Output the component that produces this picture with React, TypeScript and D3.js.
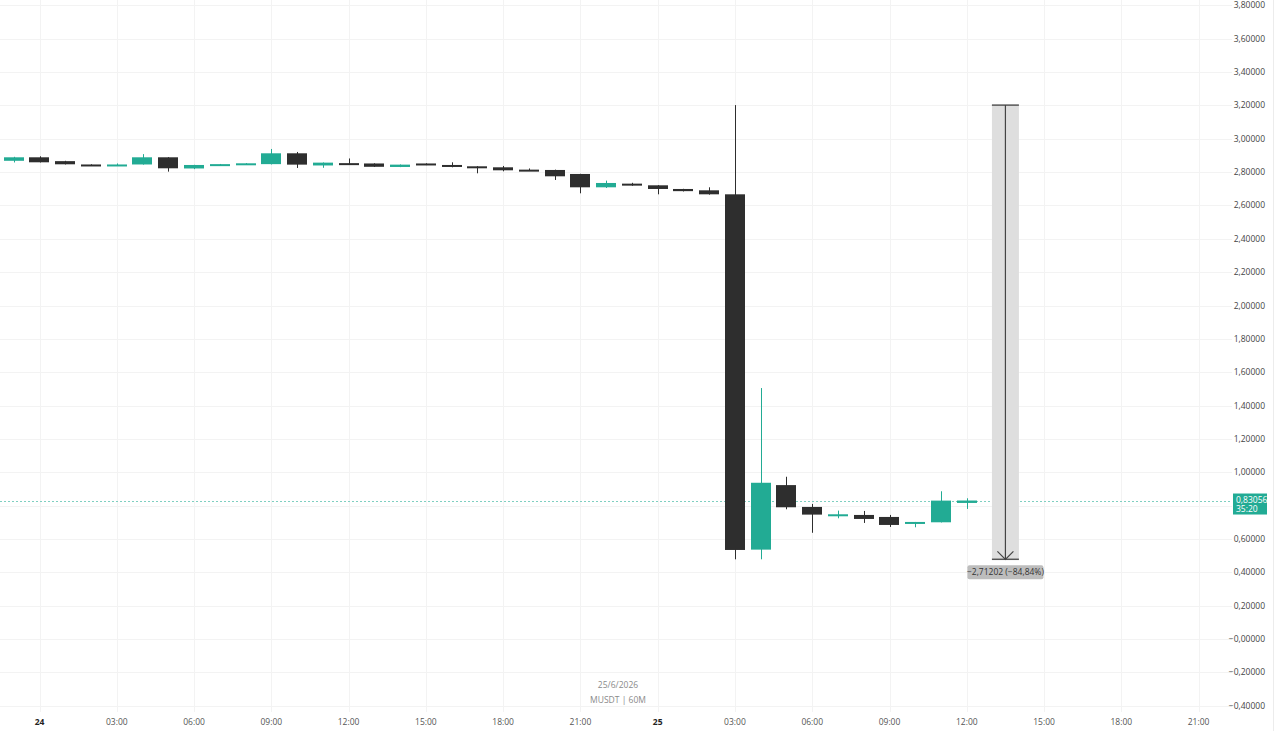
import * as d3 from "d3";
import React from "react";

// hourly candles, 23 Jun 23:00 -> 25 Jun 12:00 (UTC)
const startTime = Date.UTC(2026, 5, 23, 23);
const opens = [
  2.868, 2.889, 2.866, 2.846, 2.84, 2.846, 2.889, 2.822, 2.84, 2.844, 2.848, 2.913, 2.84,
  2.854, 2.852, 2.831, 2.852, 2.843, 2.835, 2.829, 2.815, 2.813, 2.789, 2.709, 2.731,
  2.721, 2.699, 2.691, 2.667, 0.536, 0.923, 0.792, 0.736, 0.744, 0.732, 0.69, 0.7, 0.816,
];
const highs = [
  2.892, 2.895, 2.868, 2.847, 2.852, 2.908, 2.89, 2.844, 2.849, 2.854, 2.939, 2.921, 2.858,
  2.882, 2.853, 2.846, 2.853, 2.859, 2.836, 2.837, 2.822, 2.815, 2.79, 2.749, 2.736,
  2.722, 2.7, 2.709, 3.202, 1.505, 0.973, 0.81, 0.77, 0.768, 0.744, 0.702, 0.886, 0.844,
];
const lows = [
  2.858, 2.858, 2.846, 2.84, 2.838, 2.845, 2.803, 2.818, 2.839, 2.843, 2.846, 2.825, 2.826,
  2.847, 2.831, 2.83, 2.842, 2.829, 2.793, 2.805, 2.808, 2.753, 2.673, 2.705, 2.718,
  2.667, 2.684, 2.665, 0.478, 0.478, 0.778, 0.637, 0.724, 0.696, 0.672, 0.67, 0.699, 0.78,
];
const closes = [
  2.889, 2.859, 2.847, 2.841, 2.846, 2.889, 2.823, 2.843, 2.848, 2.853, 2.913, 2.845, 2.857,
  2.848, 2.832, 2.845, 2.843, 2.835, 2.827, 2.811, 2.81, 2.775, 2.709, 2.735, 2.719,
  2.699, 2.686, 2.667, 0.534, 0.937, 0.79, 0.746, 0.748, 0.72, 0.684, 0.702, 0.83, 0.83056,
];
const priceTicks = [-0.4, -0.2, 0, 0.2, 0.4, 0.6, 0.8, 1.0, 1.2, 1.4, 1.6, 1.8, 2.0, 2.2, 2.4, 2.6, 2.8, 3.0, 3.2, 3.4, 3.6, 3.8];
const lastPrice = 0.83056;
const countdown = "35:20";
const measureFrom = 3.202;
const measureTo = 0.478;
const measureText = "\u22122,71202 (\u221284,84%)";
const dateLabel = "25/6/2026";
const symbolLabel = "MUSDT | 60M";

const UP = "#22ab94";
const DOWN = "#2e2e2e";
const GRID = "#f3f3f3";
const HOUR = 3600 * 1000;

function fmtPrice(v: number) {
  const s = Math.abs(v).toFixed(5).replace(".", ",");
  return v <= 0 ? "\u2212" + s : s;
}

export default function App() {
  const ref = React.useRef<SVGSVGElement>(null);

  React.useEffect(() => {
    if (!ref.current) return;
    const W = 1280;
    const H = 731;
    const svg = d3.select(ref.current);
    svg.selectAll("*").remove();

    const x = d3
      .scaleUtc()
      .domain([new Date(Date.UTC(2026, 5, 24, 0)), new Date(Date.UTC(2026, 5, 25, 21))])
      .range([39.5, 1198.6]);
    const y = d3.scaleLinear().domain([0, 3.8]).range([639, 5.4]);
    const hourPx = x(new Date(startTime + HOUR)) - x(new Date(startTime));
    const bodyW = hourPx * 0.78;

    svg.append("rect").attr("width", W).attr("height", H).attr("fill", "#ffffff");

    // grid
    const timeTicks = d3.utcHour.every(3)!.range(x.domain()[0], new Date(+x.domain()[1] + 1));
    svg
      .append("g")
      .selectAll("line")
      .data(timeTicks)
      .enter()
      .append("line")
      .attr("x1", (d) => Math.round(x(d)) + 0.5)
      .attr("x2", (d) => Math.round(x(d)) + 0.5)
      .attr("y1", 0)
      .attr("y2", 712)
      .attr("stroke", GRID);
    svg
      .append("g")
      .selectAll("line")
      .data(priceTicks)
      .enter()
      .append("line")
      .attr("x1", 0)
      .attr("x2", 1232)
      .attr("y1", (d) => Math.round(y(d)) + 0.5)
      .attr("y2", (d) => Math.round(y(d)) + 0.5)
      .attr("stroke", GRID);
    svg.append("line").attr("x1", 1273.5).attr("x2", 1273.5).attr("y1", 0).attr("y2", H).attr("stroke", "#ececec");

    // watermark-ish labels
    svg
      .append("text")
      .attr("x", 618)
      .attr("y", 688)
      .attr("text-anchor", "middle")
      .attr("font-size", 8.5)
      .attr("fill", "#8a8a8a")
      .text(dateLabel);
    svg
      .append("text")
      .attr("x", 618)
      .attr("y", 703)
      .attr("text-anchor", "middle")
      .attr("font-size", 8.5)
      .attr("fill", "#8a8a8a")
      .text(symbolLabel);

    // last price line
    svg
      .append("line")
      .attr("x1", 0)
      .attr("x2", 1232)
      .attr("y1", Math.round(y(lastPrice)) + 0.5)
      .attr("y2", Math.round(y(lastPrice)) + 0.5)
      .attr("stroke", "#7fcfc1")
      .attr("stroke-dasharray", "2,2")
      .attr("shape-rendering", "crispEdges");

    // candles
    const candles = opens.map((o, i) => ({
      t: new Date(startTime + i * HOUR),
      o,
      h: highs[i],
      l: lows[i],
      c: closes[i],
    }));
    const g = svg.append("g");
    const cg = g
      .selectAll("g")
      .data(candles)
      .enter()
      .append("g")
      .attr("fill", (d) => (d.c >= d.o ? UP : DOWN))
      .attr("stroke", (d) => (d.c >= d.o ? UP : DOWN));
    cg.append("line")
      .attr("x1", (d) => Math.round(x(d.t)) + 0.5)
      .attr("x2", (d) => Math.round(x(d.t)) + 0.5)
      .attr("y1", (d) => y(d.h))
      .attr("y2", (d) => y(d.l))
      .attr("stroke-width", 1);
    cg.append("rect")
      .attr("x", (d) => Math.round(x(d.t) - bodyW / 2))
      .attr("width", Math.round(bodyW))
      .attr("y", (d) => y(Math.max(d.o, d.c)))
      .attr("height", (d) => Math.max(2, Math.abs(y(d.o) - y(d.c))))
      .attr("stroke", "none");

    // measure tool
    const mx = x(new Date(Date.UTC(2026, 5, 25, 13, 30)));
    const mw = 27;
    const yTop = y(measureFrom);
    const yBot = y(measureTo);
    svg
      .append("rect")
      .attr("x", mx - mw / 2)
      .attr("y", yTop)
      .attr("width", mw)
      .attr("height", yBot - yTop)
      .attr("fill", "#dedede");
    [yTop, yBot].forEach((yy) =>
      svg
        .append("line")
        .attr("x1", mx - mw / 2)
        .attr("x2", mx + mw / 2)
        .attr("y1", yy)
        .attr("y2", yy)
        .attr("stroke", "#555")
        .attr("stroke-width", 1.5)
    );
    svg.append("line").attr("x1", mx).attr("x2", mx).attr("y1", yTop).attr("y2", yBot).attr("stroke", "#444").attr("stroke-width", 1.2);
    svg
      .append("path")
      .attr("d", `M${mx - 8},${yBot - 8}L${mx},${yBot}L${mx + 8},${yBot - 8}`)
      .attr("fill", "none")
      .attr("stroke", "#444")
      .attr("stroke-width", 1.2);
    svg
      .append("rect")
      .attr("x", mx - 38)
      .attr("y", yBot + 6)
      .attr("width", 76)
      .attr("height", 14)
      .attr("rx", 2)
      .attr("fill", "#bdbdbd");
    svg
      .append("text")
      .attr("x", mx)
      .attr("y", yBot + 16)
      .attr("text-anchor", "middle")
      .attr("font-size", 8.5)
      .attr("fill", "#333")
      .text(measureText);

    // price axis
    svg
      .append("g")
      .selectAll("text")
      .data(priceTicks.filter((d) => Math.abs(y(d) - y(lastPrice)) > 10))
      .enter()
      .append("text")
      .attr("x", 1265)
      .attr("y", (d) => y(d) + 3)
      .attr("text-anchor", "end")
      .attr("font-size", 8.5)
      .attr("fill", "#444")
      .text((d) => fmtPrice(d));

    svg
      .append("rect")
      .attr("x", 1233)
      .attr("y", y(lastPrice) - 7)
      .attr("width", 34)
      .attr("height", 21)
      .attr("fill", UP);
    svg
      .append("text")
      .attr("x", 1236)
      .attr("y", y(lastPrice) + 2)
      .attr("font-size", 8.5)
      .attr("fill", "#fff")
      .text(fmtPrice(lastPrice));
    svg
      .append("text")
      .attr("x", 1236)
      .attr("y", y(lastPrice) + 11)
      .attr("font-size", 8.5)
      .attr("fill", "#fff")
      .text(countdown);

    // time axis
    svg
      .append("g")
      .selectAll("text")
      .data(timeTicks)
      .enter()
      .append("text")
      .attr("x", (d) => x(d))
      .attr("y", 725)
      .attr("text-anchor", "middle")
      .attr("font-size", 8.5)
      .attr("font-weight", (d) => (d.getUTCHours() === 0 ? "bold" : "normal"))
      .attr("fill", (d) => (d.getUTCHours() === 0 ? "#222" : "#555"))
      .text((d) => (d.getUTCHours() === 0 ? d3.utcFormat("%-d")(d) : d3.utcFormat("%H:%M")(d)));
  }, []);

  return (
    <svg
      ref={ref}
      width={1280}
      height={731}
      style={{ position: "absolute", left: 0, top: 0, fontFamily: "'Open Sans', sans-serif" }}
    />
  );
}
